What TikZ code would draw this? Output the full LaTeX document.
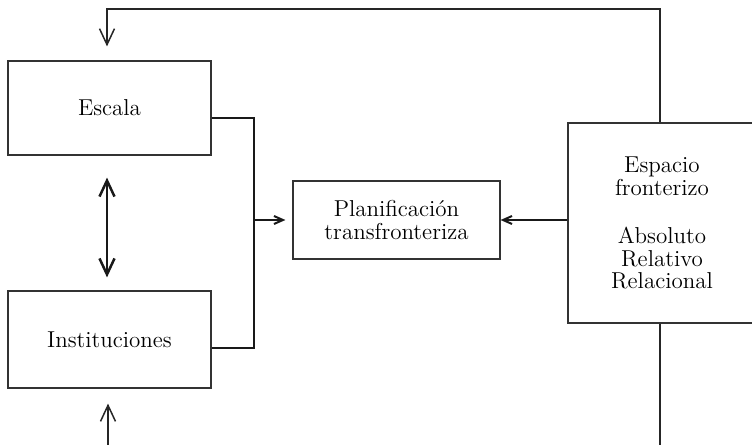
\documentclass[tikz,border=0pt]{standalone}
\usetikzlibrary{arrows.meta}
\begin{document}
\begin{tikzpicture}[x=0.5pt, y=-0.5pt,
    box/.style={draw=black!80, line width=0.6pt, font=\fontsize{11.5}{11.25}\selectfont, align=center, inner sep=0pt},
    thinline/.style={draw=black!85, line width=0.75pt},
    thickline/.style={draw=black!90, line width=1.25pt},
    bigtip/.style={>={Straight Barb[length=8pt,width=7.5pt]}},
    smalltip/.style={>={Straight Barb[length=4.5pt,width=4pt]}}]
    \useasboundingbox (0,0) rectangle (752,445);
    % boxes
    \node[box, minimum width=101.5pt, minimum height=47pt] (esc) at (109.5,108) {Escala};
    \node[box, minimum width=101.5pt, minimum height=48.5pt] (ins) at (109.5,339.5) {Instituciones};
    \node[box, minimum width=103.5pt, minimum height=39pt] (plan) at (396.5,220) {Planificación\\transfronteriza};
    \node[box, minimum width=94pt, minimum height=100pt] (esp) at (662,223)
        {Espacio\\fronterizo\\[13pt]Absoluto\\Relativo\\Relacional};
    % corners of the lines
    \coordinate (tr) at (660,9);
    \coordinate (tl) at (107,9);
    \coordinate (jt) at (254,118);
    \coordinate (jm) at (254,220);
    \coordinate (jb) at (254,348);
    \coordinate (br) at (660,445);
    \coordinate (bl) at (108,445);
    % connectors
    \draw[thinline, bigtip, ->](esp.north -| tr)--(tr)--(tl)--([yshift=7pt]esc.north -| tl);
    \draw[thickline, bigtip, <->]([yshift=-11pt]esc.south -| tl)--([yshift=6.5pt]ins.north -| tl);
    \draw[thickline](esc.east |- jt)-|(jb)--(ins.east |- jb);
    \draw[thickline, line width=1pt, smalltip, ->](jm)--([xshift=-3.5pt]plan.west);
    \draw[thickline, line width=1pt, smalltip, ->](esp.west |- plan.east)--(plan.east);
    \draw[thinline](esp.south -| br)--(br);
    \draw[thinline, bigtip, ->](bl)--([yshift=-7.5pt]ins.south -| bl);
\end{tikzpicture}
\end{document}
